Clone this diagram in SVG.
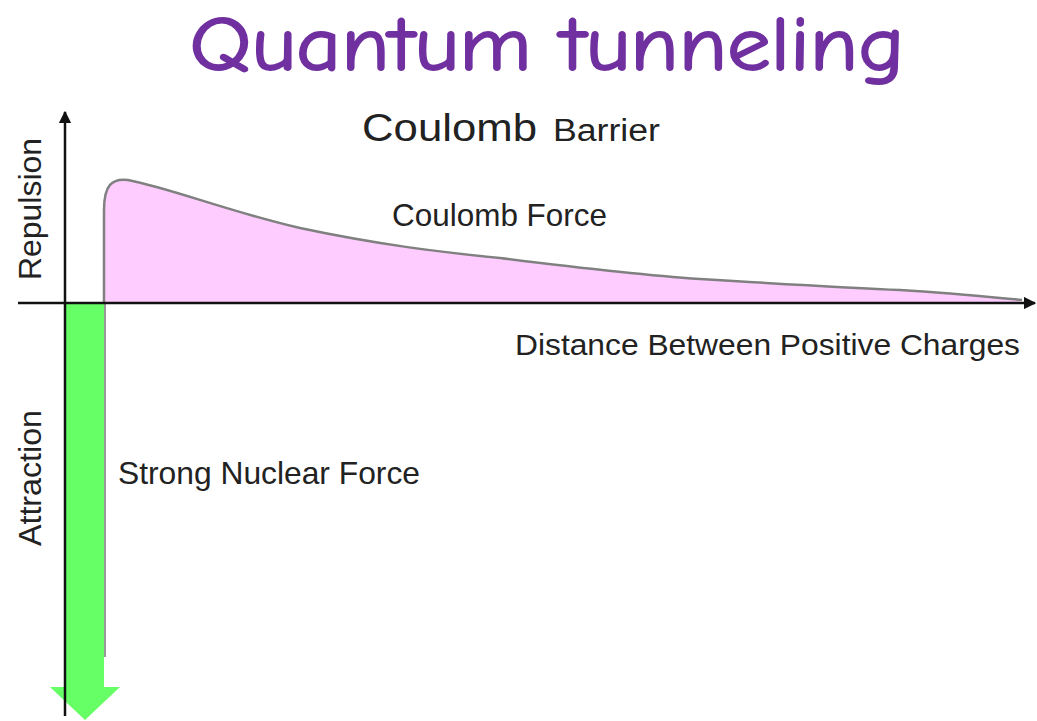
<svg xmlns="http://www.w3.org/2000/svg" width="1037" height="721" viewBox="0 0 1037 721">
<style>
.lbl{font-family:"Liberation Sans",Arial,sans-serif;fill:#222;}
.axis{stroke:#111;stroke-width:2.5;fill:none;}
</style>
<defs>
<marker id="ah" viewBox="0 0 10 10" refX="9" refY="5" markerWidth="5" markerHeight="5" orient="auto-start-reverse">
<path d="M0,0 L10,5 L0,10 z" fill="#111"/>
</marker>
</defs>
<rect width="1037" height="721" fill="#fff"/>
<text x="547" y="70" text-anchor="middle" font-family="'Comic Neue','Noto Sans',sans-serif" font-size="76" fill="#7030A0" stroke="#7030A0" stroke-width="1.8" textLength="715" lengthAdjust="spacingAndGlyphs">Quantum tunneling</text>
<g id="barrier">
<path d="M104,303 L104,210 C104,185 112,178 128,180 C170,188 230,212 300,228 C380,245 440,252 500,258 C580,268 640,275 700,279 C800,285 850,288 900,290 C950,293 990,297 1020,300 L1020,303 Z" fill="#FFCCFF" stroke="none"/>
<path d="M104,303 L104,210 C104,185 112,178 128,180 C170,188 230,212 300,228 C380,245 440,252 500,258 C580,268 640,275 700,279 C800,285 850,288 900,290 C950,293 990,297 1022,300" fill="none" stroke="#808080" stroke-width="2.5"/>
</g>
<g id="strong">
<path d="M65,303 L104,303 L104,687 L120,687 L85,720 L50,687 L65,687 Z" fill="#66FF66"/>
<line x1="105" y1="303" x2="105" y2="657" stroke="#999" stroke-width="2"/>
</g>
<g id="axes">
<line class="axis" x1="65" y1="716" x2="65" y2="112" marker-end="url(#ah)"/>
<line class="axis" x1="18" y1="303" x2="1035" y2="303" marker-end="url(#ah)"/>
</g>
<g id="labels">
<text class="lbl" x="362" y="141" font-size="39" textLength="175" lengthAdjust="spacingAndGlyphs">Coulomb</text>
<text class="lbl" x="553" y="141" font-size="31" textLength="107" lengthAdjust="spacingAndGlyphs">Barrier</text>
<text class="lbl" x="392" y="226" font-size="32" textLength="215" lengthAdjust="spacingAndGlyphs">Coulomb Force</text>
<text class="lbl" x="515" y="355" font-size="29" textLength="505" lengthAdjust="spacingAndGlyphs">Distance Between Positive Charges</text>
<text class="lbl" x="118" y="484" font-size="32" textLength="302" lengthAdjust="spacingAndGlyphs">Strong Nuclear Force</text>
<text class="lbl" transform="translate(41,209) rotate(-90)" text-anchor="middle" font-size="31" textLength="142" lengthAdjust="spacingAndGlyphs">Repulsion</text>
<text class="lbl" transform="translate(41,478) rotate(-90)" text-anchor="middle" font-size="31" textLength="136" lengthAdjust="spacingAndGlyphs">Attraction</text>
</g>
</svg>
